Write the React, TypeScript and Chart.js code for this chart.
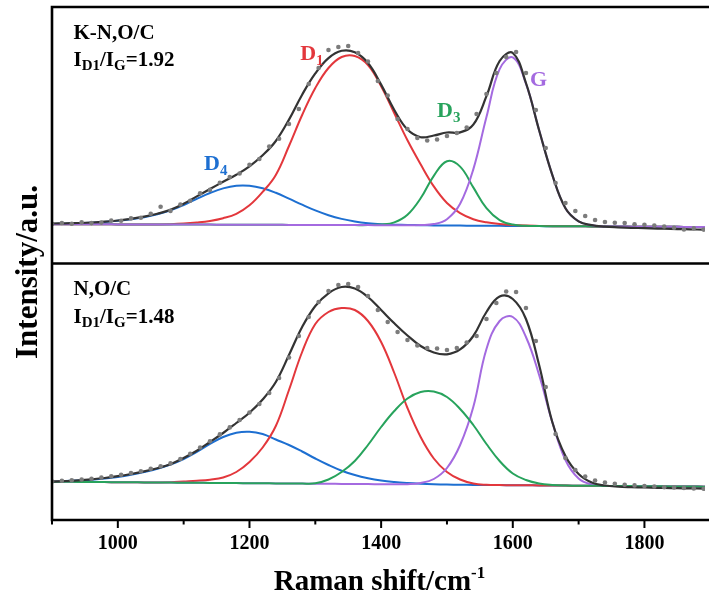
import React, { useEffect, useRef } from "react";
import { Chart, registerables } from "chart.js";

Chart.register(...registerables);

// Raman shift grid (cm^-1) for the fitted curves
const WAVENUMBERS = [
  900, 920, 940, 960, 980, 1000, 1020, 1040, 1060, 1080,
  1100, 1120, 1140, 1160, 1180, 1200, 1220, 1240, 1260, 1280,
  1300, 1320, 1340, 1360, 1380, 1400, 1420, 1440, 1460, 1480,
  1500, 1520, 1540, 1560, 1580, 1600, 1620, 1640, 1660, 1680,
  1700, 1720, 1740, 1760, 1780, 1800, 1820, 1840, 1860, 1880,
  1900,
];

// Raman shift of the measured points
const DOT_WAVENUMBERS = [
  900, 915, 930, 945, 960, 975, 990, 1005, 1020, 1035,
  1050, 1065, 1080, 1095, 1110, 1125, 1140, 1155, 1170, 1185,
  1200, 1215, 1230, 1245, 1260, 1275, 1290, 1305, 1320, 1335,
  1350, 1365, 1380, 1395, 1410, 1425, 1440, 1455, 1470, 1485,
  1500, 1515, 1530, 1545, 1560, 1575, 1590, 1605, 1620, 1635,
  1650, 1665, 1680, 1695, 1710, 1725, 1740, 1755, 1770, 1785,
  1800, 1815, 1830, 1845, 1860, 1875, 1890,
];

// ---- K-N,O/C (upper panel), intensity in a.u. above its baseline ----
const KNOC_MEASURED = [
  1.2, 2.0, 1.3, 2.6, 1.9, 2.4, 4.4, 4.2, 6.6, 7.2,
  11.2, 18.3, 14.1, 20.5, 24.2, 31.8, 35.1, 42.3, 47.9, 51.5,
  60.2, 66.0, 78.4, 86.3, 101, 116, 141, 157, 175, 178,
  179, 172, 163.5, 144, 129.5, 106, 96, 87, 84.5, 85.5,
  89, 92, 97.5, 111, 131, 152, 168, 173, 152, 115,
  77, 42, 22, 14, 9, 5, 3, 2.2, 2.0, 0.8,
  0.3, -0.5, -1.5, -2.8, -4.5, -3.3, -4.6,
];
const KNOC_FIT = [
  1.5, 1.7, 2.0, 2.5, 3.3, 4.5, 6.1, 8.3, 11.3, 15.2,
  21.2, 28.6, 36, 43.2, 50.2, 58.7, 69.7, 84, 105.4, 130.3,
  151.6, 166.9, 174.2, 172.7, 162, 140.4, 115, 95.4, 87.8, 89.5,
  92.5, 92.6, 100.3, 128.8, 164, 172, 142, 94.8, 50.2, 16.8,
  3.7, -0.2, -1.6, -2.3, -2.8, -3.2, -3.6, -3.9, -4.2, -4.5,
  -4.8,
];
const KNOC_D4 = [
  1.0, 1.3, 1.7, 2.3, 3.1, 4.2, 5.7, 7.8, 10.6, 14.6,
  20, 26.2, 32, 36.6, 39.2, 39.2, 36.7, 32.2, 26.4, 20.3,
  14.6, 9.8, 6.1, 3.5, 1.8, 0.8, 0.3, 0, -0.2, -0.4,
  -0.5, -0.6, -0.7, -0.75, -0.85, -0.9, -1.0, -1.1, -1.15, -1.25,
  -1.3, -1.4, -1.5, -1.55, -1.65, -1.7, -1.8, -1.85, -1.9, -2.0,
  -2.0,
];
const KNOC_D1 = [
  0.8, 0.8, 0.7, 0.7, 0.7, 0.6, 0.6, 0.6, 0.6, 0.8,
  1.4, 2.5, 4.1, 6.8, 11.2, 19.7, 33.1, 50.1, 79, 110,
  137, 157, 168, 169, 160, 138.8, 111.8, 84.7, 60.7, 38.6,
  22, 11.9, 5.8, 2.7, 1, 0, -0.6, -0.9, -1.15, -1.25,
  -1.3, -1.4, -1.5, -1.55, -1.65, -1.7, -1.8, -1.85, -1.9, -2.0,
  -2.0,
];
const KNOC_D3 = [
  0.8, 0.8, 0.7, 0.7, 0.7, 0.6, 0.6, 0.6, 0.5, 0.5,
  0.4, 0.4, 0.4, 0.3, 0.3, 0.2, 0.2, 0.2, 0.1, 0.1,
  0, 0, 0, -0.1, -0.1, 0.4, 2.6, 10.2, 26.7, 49.2,
  63.8, 58.4, 37.6, 16.8, 4.9, 0.4, -0.8, -1.1, -1.15, -1.25,
  -1.3, -1.4, -1.5, -1.55, -1.65, -1.7, -1.8, -1.85, -1.9, -2.0,
  -2.0,
];
const KNOC_G = [
  0.8, 0.8, 0.7, 0.7, 0.7, 0.6, 0.6, 0.6, 0.5, 0.5,
  0.4, 0.4, 0.4, 0.3, 0.3, 0.2, 0.2, 0.2, 0.1, 0.1,
  0, 0, 0, -0.1, -0.1, -0.2, -0.2, -0.3, -0.1, 0.9,
  5.8, 21.2, 55.6, 108, 155.8, 167.6, 141.4, 94.7, 50.1, 16.7,
  3.6, -0.3, -1.5, -1.55, -1.65, -1.7, -1.8, -1.85, -1.9, -2.0,
  -2.0,
];

// ---- N,O/C (lower panel) ----
const NOC_MEASURED = [
  0.5, 1.2, 1.8, 2.5, 3.3, 4.4, 5.8, 7.3, 8.9, 10.8,
  13.2, 15.8, 18.6, 23.0, 28.3, 34.5, 40.8, 47.6, 54.6, 62.0,
  69.5, 78, 89, 104, 124.5, 146, 165, 180, 191, 197,
  198, 195, 186, 172, 160, 150, 142, 136.5, 134, 133.5,
  132, 134, 139.5, 146, 163, 179, 190.5, 190, 174, 141,
  95, 48, 24, 12, 5.5, 1.5, -0.5, -1.8, -2.7, -3.4,
  -4.0, -4.5, -5.2, -5.5, -6.0, -6.4, -6.7,
];
const NOC_FIT = [
  0.3, 1.0, 1.7, 2.7, 4.0, 5.8, 8.0, 10.6, 13.8, 17.8,
  24, 31.3, 40, 49, 59, 69.3, 82.5, 100, 127, 155,
  176, 188.7, 195, 193.5, 185, 172, 158.7, 146.5, 136, 129.5,
  127.7, 132.6, 146, 170, 185.5, 183, 163, 117, 60, 26,
  8, -0.5, -3.5, -4.7, -5.2, -5.5, -5.8, -6.1, -6.3, -6.5,
  -6.7,
];
const NOC_D4 = [
  0.3, 0.9, 1.5, 2.3, 3.4, 5, 7.2, 10, 13.3, 17.5,
  23, 30, 38, 45, 49.3, 50.3, 48, 42.5, 37, 30.5,
  23.5, 17, 11.3, 7, 3.8, 1.5, 0, -1, -1.7, -2.2,
  -2.6, -2.8, -2.9, -3.0, -3.1, -3.2, -3.3, -3.4, -3.5, -3.6,
  -3.7, -3.8, -3.9, -4.0, -4.1, -4.2, -4.3, -4.4, -4.5, -4.6,
  -4.7,
];
const NOC_D1 = [
  0.3, 0.2, 0.1, 0, -0.1, -0.2, -0.3, -0.4, -0.4, -0.2,
  0.5, 1.2, 2.3, 4.5, 10, 20, 34.5, 56, 92, 130,
  158, 170, 174, 172, 161, 140, 109, 74, 45, 23.5,
  10, 2.5, -1.5, -2.8, -3.1, -3.2, -3.3, -3.4, -3.5, -3.6,
  -3.7, -3.8, -3.9, -4.0, -4.1, -4.2, -4.3, -4.4, -4.5, -4.6,
  -4.7,
];
const NOC_D3 = [
  0.3, 0.2, 0.1, 0, -0.1, -0.2, -0.3, -0.4, -0.5, -0.6,
  -0.7, -0.8, -0.9, -1.0, -1.1, -1.2, -1.3, -1.4, -1.5, -1.6,
  -1.3, 2.5, 10, 21, 37, 55, 71, 83.5, 90, 90.5,
  85, 73, 57, 38, 21, 8.5, 2, -1.5, -3, -3.6,
  -3.7, -3.8, -3.9, -4.0, -4.1, -4.2, -4.3, -4.4, -4.5, -4.6,
  -4.7,
];
const NOC_G = [
  0.3, 0.2, 0.1, 0, -0.1, -0.2, -0.3, -0.4, -0.5, -0.6,
  -0.7, -0.8, -0.9, -1.0, -1.1, -1.2, -1.3, -1.4, -1.5, -1.6,
  -1.7, -1.8, -1.9, -2.0, -2.1, -2.2, -2.3, -2.2, -1, 3,
  14, 37, 75, 133, 161, 165, 145, 107, 60, 22,
  3.5, -2.5, -3.9, -4.0, -4.1, -4.2, -4.3, -4.4, -4.5, -4.6,
  -4.7,
];

// x-axis tick labels
const MAJOR_TICKS = [1000, 1200, 1400, 1600, 1800];
const MINOR_TICKS = [900, 1100, 1300, 1500, 1700, 1900];

const SAMPLE_NAMES = ["K-N,O/C", "N,O/C"];
const ID1_IG_RATIOS = ["1.92", "1.48"];

// Both panels share one intensity axis; each panel sits on its own offset.
const Y_MAX = 513;
const UPPER_OFFSET = 295;
const LOWER_OFFSET = 38;
const PANEL_DIVIDER = 256.5;

const COLORS = {
  fit: "#333333",
  dots: "#7c7c7c",
  D1: "#e3373c",
  D3: "#27a35c",
  D4: "#1d6fd1",
  G: "#a46ae0",
};

// Band labels placed in data units (Raman shift, intensity of the upper panel)
const BAND_LABELS = [
  { main: "D", sub: "1", color: COLORS.D1, at: 1277, level: 165 },
  { main: "D", sub: "3", color: COLORS.D3, at: 1485, level: 108 },
  { main: "G", sub: "", color: COLORS.G, at: 1626, level: 139 },
  { main: "D", sub: "4", color: COLORS.D4, at: 1131, level: 55 },
];

const FAMILY = '"Liberation Serif", "Times New Roman", Times, serif';
const bold = (size: number) => `bold ${size}px ${FAMILY}`;

type Run = { text: string; size: number; shift: number };

function drawRuns(
  ctx: CanvasRenderingContext2D,
  runs: Run[],
  x: number,
  y: number,
  color: string,
  align: "left" | "center"
) {
  const widths = runs.map((r) => {
    ctx.font = bold(r.size);
    return ctx.measureText(r.text).width;
  });
  const total = widths.reduce((a, b) => a + b, 0);
  let cx = align === "center" ? x - total / 2 : x;
  ctx.fillStyle = color;
  ctx.textAlign = "left";
  ctx.textBaseline = "alphabetic";
  runs.forEach((r, i) => {
    ctx.font = bold(r.size);
    ctx.fillText(r.text, cx, y + r.shift);
    cx += widths[i];
  });
}

const toPoints = (xs: number[], ys: number[], offset: number) =>
  ys.map((v, i) => ({ x: xs[i], y: v + offset }));

const curve = (values: number[], offset: number, color: string, width = 2) => ({
  type: "line" as const,
  data: toPoints(WAVENUMBERS, values, offset),
  borderColor: color,
  borderWidth: width,
  pointRadius: 0,
  fill: false,
  tension: 0.4,
});

const scatter = (values: number[], offset: number) => ({
  type: "line" as const,
  data: toPoints(DOT_WAVENUMBERS, values, offset),
  showLine: false,
  pointRadius: 2.3,
  pointBackgroundColor: COLORS.dots,
  pointBorderWidth: 0,
  borderColor: COLORS.dots,
});

const framePlugin = {
  id: "ramanFrame",
  afterDraw(chart: any) {
    const { ctx, chartArea: ca, scales } = chart;
    const xs = scales.x;
    const ys = scales.y;
    ctx.save();

    // axes box and panel divider
    ctx.strokeStyle = "#000";
    ctx.lineWidth = 2.6;
    ctx.lineCap = "square";
    ctx.beginPath();
    ctx.moveTo(ca.right + 3, ca.top);
    ctx.lineTo(ca.left, ca.top);
    ctx.lineTo(ca.left, ca.bottom);
    ctx.lineTo(ca.right + 3, ca.bottom);
    const yd = ys.getPixelForValue(PANEL_DIVIDER);
    ctx.moveTo(ca.left, yd);
    ctx.lineTo(ca.right + 3, yd);
    ctx.stroke();

    // outward tick marks
    ctx.lineCap = "butt";
    ctx.lineWidth = 2;
    MAJOR_TICKS.forEach((v) => {
      const px = xs.getPixelForValue(v);
      ctx.beginPath();
      ctx.moveTo(px, ca.bottom);
      ctx.lineTo(px, ca.bottom + 8);
      ctx.stroke();
    });
    MINOR_TICKS.forEach((v) => {
      const px = xs.getPixelForValue(v);
      ctx.beginPath();
      ctx.moveTo(px, ca.bottom);
      ctx.lineTo(px, ca.bottom + 4.5);
      ctx.stroke();
    });

    // axis titles
    drawRuns(
      ctx,
      [
        { text: "Raman shift/cm", size: 29, shift: 0 },
        { text: "-1", size: 17, shift: -12 },
      ],
      (ca.left + 708) / 2 - 0.5,
      590,
      "#000",
      "center"
    );
    ctx.save();
    ctx.translate(37, 272);
    ctx.rotate(-Math.PI / 2);
    drawRuns(ctx, [{ text: "Intensity/a.u.", size: 31, shift: 0 }], 0, 0, "#000", "center");
    ctx.restore();

    // sample labels
    const panelTops = [ca.top, yd];
    SAMPLE_NAMES.forEach((name, i) => {
      const top = panelTops[i];
      const x0 = ca.left + 21.5;
      drawRuns(ctx, [{ text: name, size: 21, shift: 0 }], x0, top + 31.5, "#000", "left");
      drawRuns(
        ctx,
        [
          { text: "I", size: 21, shift: 0 },
          { text: "D1", size: 15, shift: 4 },
          { text: "/I", size: 21, shift: 0 },
          { text: "G", size: 15, shift: 4 },
          { text: "=" + ID1_IG_RATIOS[i], size: 21, shift: 0 },
        ],
        x0,
        top + 59,
        "#000",
        "left"
      );
    });

    // band labels
    BAND_LABELS.forEach((b) => {
      const px = xs.getPixelForValue(b.at);
      const py = ys.getPixelForValue(b.level + UPPER_OFFSET);
      const runs: Run[] = [{ text: b.main, size: 22, shift: 0 }];
      if (b.sub) runs.push({ text: b.sub, size: 15, shift: 5 });
      drawRuns(ctx, runs, px, py, b.color, "left");
    });

    ctx.restore();
  },
};

export default function App() {
  const canvasRef = useRef<HTMLCanvasElement | null>(null);

  useEffect(() => {
    const canvas = canvasRef.current;
    if (!canvas) return;

    // First dataset is painted last (on top).
    const datasets: any[] = [
      scatter(KNOC_MEASURED, UPPER_OFFSET),
      scatter(NOC_MEASURED, LOWER_OFFSET),
      curve(KNOC_FIT, UPPER_OFFSET, COLORS.fit, 2.2),
      curve(NOC_FIT, LOWER_OFFSET, COLORS.fit, 2.2),
      curve(KNOC_G, UPPER_OFFSET, COLORS.G),
      curve(KNOC_D3, UPPER_OFFSET, COLORS.D3),
      curve(KNOC_D1, UPPER_OFFSET, COLORS.D1),
      curve(KNOC_D4, UPPER_OFFSET, COLORS.D4),
      curve(NOC_D3, LOWER_OFFSET, COLORS.D3),
      curve(NOC_G, LOWER_OFFSET, COLORS.G),
      curve(NOC_D1, LOWER_OFFSET, COLORS.D1),
      curve(NOC_D4, LOWER_OFFSET, COLORS.D4),
    ];

    const chart = new Chart(canvas, {
      type: "line",
      data: { datasets },
      options: {
        animation: false,
        responsive: false,
        devicePixelRatio: 1,
        layout: { padding: { left: 52, top: 7, right: 0, bottom: 0 } },
        plugins: {
          legend: { display: false },
          tooltip: { enabled: false },
        },
        scales: {
          x: {
            type: "linear",
            position: "bottom",
            min: 900,
            max: 1892,
            afterBuildTicks: (scale: any) => {
              scale.ticks = MAJOR_TICKS.map((v) => ({ value: v }));
            },
            afterFit: (scale: any) => {
              scale.height = 82;
            },
            grid: { display: false, drawTicks: false },
            border: { display: false },
            ticks: {
              autoSkip: false,
              maxRotation: 0,
              padding: 12,
              color: "#000",
              font: { family: FAMILY, size: 20, weight: "bold" },
              callback: (v: any) => String(v),
            },
          },
          y: { type: "linear", min: 0, max: Y_MAX, display: false },
        },
      } as any,
      plugins: [framePlugin],
    });

    return () => chart.destroy();
  }, []);

  return (
    <div
      style={{
        position: "absolute",
        left: 0,
        top: 0,
        width: 709,
        height: 602,
        background: "#fff",
      }}
    >
      <canvas ref={canvasRef} width={709} height={602} style={{ display: "block" }} />
    </div>
  );
}
